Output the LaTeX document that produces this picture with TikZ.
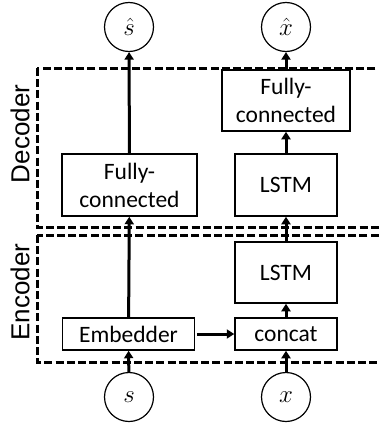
\documentclass[tikz,border=0pt]{standalone}
\usepackage{fontspec}
\setmainfont{Carlito}
\newfontfamily\labelfont{Liberation Sans}
\usetikzlibrary{arrows.meta}

\tikzset{
  block/.style={draw, line width=1.5pt, align=center, inner sep=0pt,
    font=\fontsize{23.5}{28}\selectfont},
  var/.style={draw, circle, line width=1.2pt, minimum size=49pt, inner sep=0pt,
    font=\fontsize{27}{30}\selectfont},
  flow/.style={line width=3pt, -{Triangle[length=7.5pt,width=9pt]}},
  region/.style={draw, line width=3pt, dash pattern=on 8pt off 3.2pt},
  regionlabel/.style={rotate=90, font=\labelfont\fontsize{26}{30}\selectfont}
}

\begin{document}
\begin{tikzpicture}[x=1pt,y=-1pt]
  \useasboundingbox (0,0) rectangle (379,423);
  \clip (0,0) rectangle (379,423);

  % encoder / decoder regions (open to the right)
  \draw[region] (37,68) rectangle (400,227);
  \draw[region] (37,235) rectangle (400,362);
  \node[regionlabel] (declabel) at (20,134) {Decoder};
  \node[regionlabel] (enclabel) at (20,292) {Encoder};

  % blocks
  \node[block, minimum width=128pt, minimum height=61pt] (fcR) at (286,100.5) {Fully-\\connected};
  \node[block, minimum width=102pt, minimum height=62pt] (lstmD) at (286,185) {LSTM};
  \node[block, minimum width=135pt, minimum height=62pt] (fcL) at (129.5,185) {Fully-\\connected};
  \node[block, minimum width=102pt, minimum height=61pt] (lstmE) at (286,272.5) {LSTM};
  \node[block, minimum width=132pt, minimum height=32pt] (emb) at (128.5,334) {Embedder};
  \node[block, minimum width=102pt, minimum height=32pt] (cat) at (286,334) {concat};

  % inputs and outputs
  \node[var] (shat) at (129,27) {$\hat{s}$};
  \node[var] (xhat) at (286,27) {$\hat{x}$};
  \node[var] (s) at (129,397) {$s$};
  \node[var] (x) at (286,397) {$x$};

  % connections
  \draw[flow] (s) -- (emb);
  \draw[flow] (emb) -- (fcL);
  \draw[flow] (fcL) -- (shat);
  \draw[flow] ([xshift=2pt]emb.east) -- (cat.west);
  \draw[flow] (x) -- (cat);
  \draw[flow] (cat) -- (lstmE);
  \draw[flow] (lstmE) -- (lstmD);
  \draw[flow] (lstmD) -- (fcR);
  \draw[flow] (fcR) -- (xhat);
\end{tikzpicture}
\end{document}
